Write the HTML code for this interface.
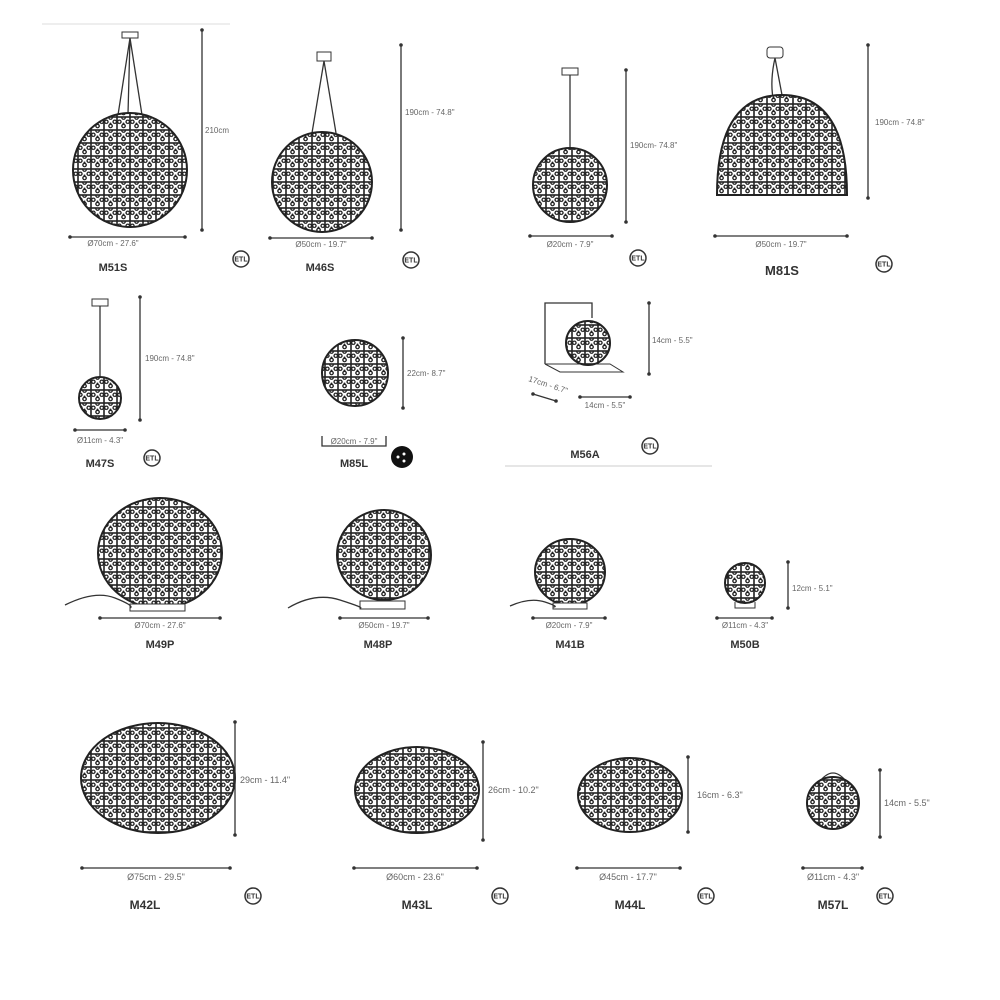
<!DOCTYPE html>
<html><head><meta charset="utf-8">
<style>
html,body{margin:0;padding:0;background:#fff;}
svg{display:block;}
.d{font-family:"Liberation Sans",sans-serif;font-size:8px;fill:#666;}
.m{font-family:"Liberation Sans",sans-serif;font-size:11px;font-weight:bold;fill:#333;}
.l{stroke:#333;stroke-width:1.3;fill:none;}
line.l{marker-start:url(#dt);marker-end:url(#dt);}
.e{font-family:"Liberation Sans",sans-serif;font-size:7px;font-weight:bold;fill:#333;}
</style></head><body>
<svg width="1000" height="1000" viewBox="0 0 1000 1000" xmlns="http://www.w3.org/2000/svg">
<defs>
<marker id="dt" markerWidth="4" markerHeight="4" refX="2" refY="2" markerUnits="userSpaceOnUse"><circle cx="2" cy="2" r="1.8" fill="#333"/></marker>
<pattern id="p" width="13" height="13" patternUnits="userSpaceOnUse">
<rect width="13" height="13" fill="#fff"/>
<rect width="13" height="13" fill="none" stroke="#222" stroke-width="1.6"/>
<path d="M6.5 2.3 a1.7 1.7 0 1 1 0.1 0 M2.3 6.5 a1.7 1.7 0 1 1 0.1 0 M10.7 6.5 a1.7 1.7 0 1 1 0.1 0 M6.5 10.7 a1.7 1.7 0 1 1 0.1 0" fill="none" stroke="#222" stroke-width="1.3"/>
<circle cx="6.5" cy="6.5" r="1" fill="#222"/>
</pattern>
<g id="etl"><circle r="8" fill="none" stroke="#333" stroke-width="1.5"/><text class="e" x="0" y="2.5" text-anchor="middle">ETL</text></g>
</defs>

<line x1="42" y1="24" x2="230" y2="24" stroke="#eee" stroke-width="2"/>
<line x1="505" y1="466" x2="712" y2="466" stroke="#ccc" stroke-width="1"/>

<!-- M51S -->
<rect x="122" y="32" width="16" height="6" fill="none" stroke="#333"/>
<path class="l" d="M130 38 L118 115 M130 38 L142 115 M130 38 L128 114" stroke-width="1"/>
<circle cx="130" cy="170" r="57" fill="url(#p)" stroke="#222" stroke-width="2"/>
<line class="l" x1="202" y1="30" x2="202" y2="230"/>
<text class="d" x="205" y="133">210cm</text>
<line class="l" x1="70" y1="237" x2="185" y2="237"/>
<text class="d" x="113" y="246" text-anchor="middle">Ø70cm - 27.6"</text>
<text class="m" x="113" y="271" text-anchor="middle">M51S</text>
<use href="#etl" x="241" y="259"/>

<!-- M46S -->
<rect x="317" y="52" width="14" height="9" fill="none" stroke="#333"/>
<path class="l" d="M324 61 L312 133 M324 61 L336 133" stroke-width="1"/>
<circle cx="322" cy="182" r="50" fill="url(#p)" stroke="#222" stroke-width="2"/>
<line class="l" x1="401" y1="45" x2="401" y2="230"/>
<text class="d" x="405" y="115">190cm - 74.8"</text>
<line class="l" x1="270" y1="238" x2="372" y2="238"/>
<text class="d" x="321" y="247" text-anchor="middle">Ø50cm - 19.7"</text>
<text class="m" x="320" y="271" text-anchor="middle">M46S</text>
<use href="#etl" x="411" y="260"/>

<!-- pendant 20 -->
<rect x="562" y="68" width="16" height="7" fill="none" stroke="#333"/>
<path class="l" d="M570 75 L570 148" stroke-width="1"/>
<circle cx="570" cy="185" r="37" fill="url(#p)" stroke="#222" stroke-width="2"/>
<line class="l" x1="626" y1="70" x2="626" y2="222"/>
<text class="d" x="630" y="148">190cm- 74.8"</text>
<line class="l" x1="530" y1="236" x2="612" y2="236"/>
<text class="d" x="570" y="247" text-anchor="middle">Ø20cm - 7.9"</text>
<use href="#etl" x="638" y="258"/>

<!-- M81S -->
<rect x="767" y="47" width="16" height="11" rx="3" fill="none" stroke="#333"/>
<path class="l" d="M775 58 Q770 80 773 98 M775 58 L782 95" stroke-width="1"/>
<path d="M717 195 Q717 95 782 95 Q847 95 847 195 Z" fill="url(#p)" stroke="#222" stroke-width="2"/>
<line class="l" x1="868" y1="45" x2="868" y2="198"/>
<text class="d" x="875" y="125">190cm - 74.8"</text>
<line class="l" x1="715" y1="236" x2="847" y2="236"/>
<text class="d" x="781" y="247" text-anchor="middle">Ø50cm - 19.7"</text>
<text class="m" x="782" y="275" text-anchor="middle" style="font-size:13px">M81S</text>
<use href="#etl" x="884" y="264"/>

<!-- M47S -->
<rect x="92" y="299" width="16" height="7" fill="none" stroke="#333"/>
<path class="l" d="M100 306 L100 377" stroke-width="1"/>
<circle cx="100" cy="398" r="21" fill="url(#p)" stroke="#222" stroke-width="2"/>
<line class="l" x1="140" y1="297" x2="140" y2="420"/>
<text class="d" x="145" y="361">190cm - 74.8"</text>
<line class="l" x1="75" y1="430" x2="125" y2="430"/>
<text class="d" x="100" y="443" text-anchor="middle">Ø11cm - 4.3"</text>
<text class="m" x="100" y="467" text-anchor="middle">M47S</text>
<use href="#etl" x="152" y="458"/>

<!-- M85L -->
<circle cx="355" cy="373" r="33" fill="url(#p)" stroke="#222" stroke-width="2"/>
<line class="l" x1="403" y1="338" x2="403" y2="408"/>
<text class="d" x="407" y="376">22cm- 8.7"</text>
<path class="l" d="M322 436 L322 446 L386 446 L386 436"/>
<text class="d" x="354" y="444" text-anchor="middle">Ø20cm - 7.9"</text>
<text class="m" x="354" y="467" text-anchor="middle">M85L</text>
<circle cx="402" cy="457" r="11" fill="#111"/>
<circle cx="398" cy="457" r="1.5" fill="#fff"/><circle cx="404" cy="454" r="1.5" fill="#fff"/><circle cx="404" cy="461" r="1.5" fill="#fff"/>

<!-- M56A -->
<path class="l" d="M545 364 L545 303 L592 303 L592 318" stroke-width="1"/>
<path d="M545 364 L560 372 L623 372 L610 364 Z" fill="none" stroke="#333"/>
<circle cx="588" cy="343" r="22" fill="url(#p)" stroke="#222" stroke-width="2"/>
<line class="l" x1="649" y1="303" x2="649" y2="374"/>
<text class="d" x="652" y="343">14cm - 5.5"</text>
<line class="l" x1="533" y1="394" x2="556" y2="401"/>
<text class="d" x="528" y="381" transform="rotate(18 528 381)">17cm - 6.7"</text>
<line class="l" x1="580" y1="397" x2="630" y2="397"/>
<text class="d" x="605" y="408" text-anchor="middle">14cm - 5.5"</text>
<text class="m" x="585" y="458" text-anchor="middle">M56A</text>
<use href="#etl" x="650" y="446"/>

<!-- M49P -->
<ellipse cx="160" cy="553" rx="62" ry="55" fill="url(#p)" stroke="#222" stroke-width="2"/>
<rect x="130" y="604" width="55" height="7" fill="#fff" stroke="#333"/>
<path class="l" d="M65 605 Q95 590 115 598 T130 608" stroke-width="1"/>
<line class="l" x1="100" y1="618" x2="220" y2="618"/>
<text class="d" x="160" y="628" text-anchor="middle">Ø70cm - 27.6"</text>
<text class="m" x="160" y="648" text-anchor="middle">M49P</text>

<!-- M48P -->
<ellipse cx="384" cy="555" rx="47" ry="45" fill="url(#p)" stroke="#222" stroke-width="2"/>
<rect x="360" y="601" width="45" height="8" fill="#fff" stroke="#333"/>
<path class="l" d="M288 608 Q315 592 340 600 T360 608" stroke-width="1"/>
<line class="l" x1="340" y1="618" x2="428" y2="618"/>
<text class="d" x="384" y="628" text-anchor="middle">Ø50cm - 19.7"</text>
<text class="m" x="378" y="648" text-anchor="middle">M48P</text>

<!-- M41B -->
<ellipse cx="570" cy="572" rx="35" ry="33" fill="url(#p)" stroke="#222" stroke-width="2"/>
<rect x="553" y="603" width="34" height="6" fill="#fff" stroke="#333"/>
<path class="l" d="M510 606 Q530 597 545 602 T553 607" stroke-width="1"/>
<line class="l" x1="533" y1="618" x2="605" y2="618"/>
<text class="d" x="569" y="628" text-anchor="middle">Ø20cm - 7.9"</text>
<text class="m" x="570" y="648" text-anchor="middle">M41B</text>

<!-- M50B -->
<circle cx="745" cy="583" r="20" fill="url(#p)" stroke="#222" stroke-width="2"/>
<path d="M735 602 L735 608 L755 608 L755 602" fill="none" stroke="#333"/>
<line class="l" x1="788" y1="562" x2="788" y2="608"/>
<text class="d" x="792" y="591">12cm - 5.1"</text>
<line class="l" x1="717" y1="618" x2="772" y2="618"/>
<text class="d" x="745" y="628" text-anchor="middle">Ø11cm - 4.3"</text>
<text class="m" x="745" y="648" text-anchor="middle">M50B</text>

<!-- M42L -->
<ellipse cx="158" cy="778" rx="77" ry="55" fill="url(#p)" stroke="#222" stroke-width="2"/>
<line class="l" x1="235" y1="722" x2="235" y2="835"/>
<text class="d" x="240" y="783" style="font-size:9px">29cm - 11.4"</text>
<line class="l" x1="82" y1="868" x2="230" y2="868"/>
<text class="d" x="156" y="880" text-anchor="middle" style="font-size:9px">Ø75cm - 29.5"</text>
<text class="m" x="145" y="909" text-anchor="middle" style="font-size:12px">M42L</text>
<use href="#etl" x="253" y="896"/>

<!-- M43L -->
<ellipse cx="417" cy="790" rx="62" ry="43" fill="url(#p)" stroke="#222" stroke-width="2"/>
<line class="l" x1="483" y1="742" x2="483" y2="840"/>
<text class="d" x="488" y="793" style="font-size:9px">26cm - 10.2"</text>
<line class="l" x1="354" y1="868" x2="477" y2="868"/>
<text class="d" x="415" y="880" text-anchor="middle" style="font-size:9px">Ø60cm - 23.6"</text>
<text class="m" x="417" y="909" text-anchor="middle" style="font-size:12px">M43L</text>
<use href="#etl" x="500" y="896"/>

<!-- M44L -->
<ellipse cx="630" cy="795" rx="52" ry="37" fill="url(#p)" stroke="#222" stroke-width="2"/>
<line class="l" x1="688" y1="757" x2="688" y2="832"/>
<text class="d" x="697" y="798" style="font-size:9px">16cm - 6.3"</text>
<line class="l" x1="577" y1="868" x2="680" y2="868"/>
<text class="d" x="628" y="880" text-anchor="middle" style="font-size:9px">Ø45cm - 17.7"</text>
<text class="m" x="630" y="909" text-anchor="middle" style="font-size:12px">M44L</text>
<use href="#etl" x="706" y="896"/>

<!-- M57L -->
<path class="l" d="M818 784 Q833 762 848 784" stroke-width="1.5"/>
<circle cx="833" cy="803" r="26" fill="url(#p)" stroke="#222" stroke-width="2"/>
<line class="l" x1="880" y1="770" x2="880" y2="837"/>
<text class="d" x="884" y="806" style="font-size:9px">14cm - 5.5"</text>
<line class="l" x1="803" y1="868" x2="862" y2="868"/>
<text class="d" x="833" y="880" text-anchor="middle" style="font-size:9px">Ø11cm - 4.3"</text>
<text class="m" x="833" y="909" text-anchor="middle" style="font-size:12px">M57L</text>
<use href="#etl" x="885" y="896"/>
</svg>
</body></html>
